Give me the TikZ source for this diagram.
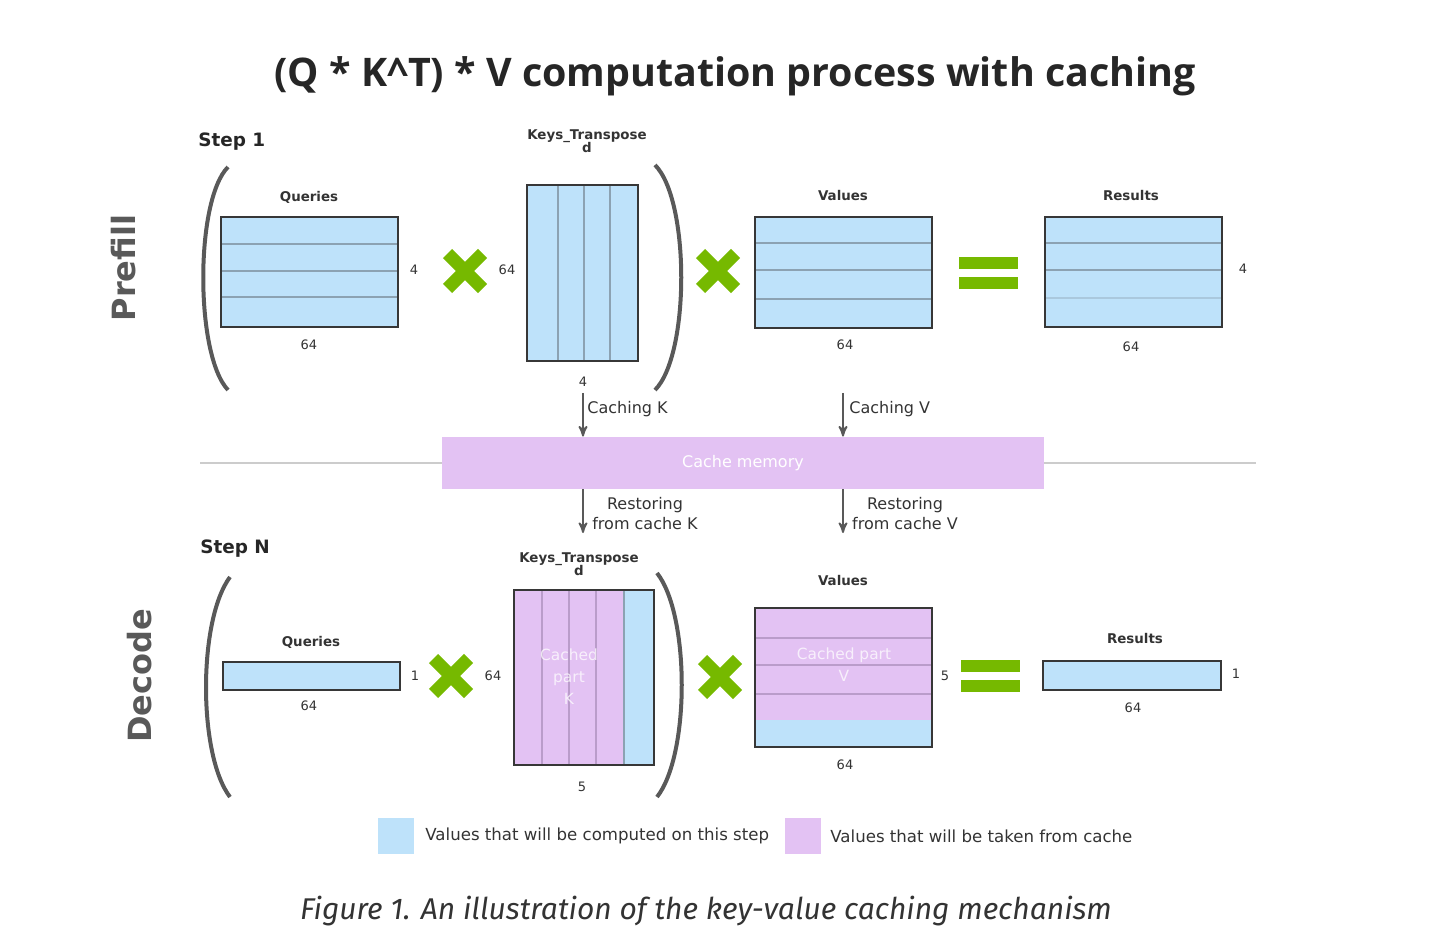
\documentclass[tikz,border=0pt]{standalone}
\usepackage{fontspec}
\setmainfont{DejaVu Sans}
\newfontfamily\titlefont{Open Sans}
\newfontfamily\capfont{Fira Sans}
\usetikzlibrary{arrows}

\definecolor{cellblue}{RGB}{190,226,250}
\definecolor{cachepink}{RGB}{227,194,243}
\definecolor{nvgreen}{RGB}{118,185,0}
\definecolor{framegray}{RGB}{55,55,55}
\definecolor{rowline}{RGB}{140,162,178}
\definecolor{pinkline}{RGB}{186,156,202}
\definecolor{darktext}{RGB}{51,51,51}

\begin{document}
\begin{tikzpicture}[x=0.5pt,y=-0.5pt,>=stealth',
    title/.style={font=\titlefont\bfseries\fontsize{19.7}{22}\selectfont,text=black!85},
    steplabel/.style={font=\bfseries\fontsize{9.2}{11}\selectfont,text=black!85,anchor=west,inner sep=0pt},
    phase/.style={font=\bfseries\fontsize{16}{18}\selectfont,text=black!65,rotate=90,inner sep=0pt},
    matname/.style={font=\bfseries\fontsize{6.7}{8}\selectfont,text=black!80,inner sep=0pt},
    dimlab/.style={font=\fontsize{6.5}{7}\selectfont,text=black!80,inner sep=0pt},
    mat/.style={fill=cellblue,inner sep=0pt},
    cachedmat/.style={fill=cachepink,inner sep=0pt},
    frame/.style={draw=framegray,line width=1pt},
    rowsep/.style={draw=rowline,line width=0.7pt},
    pinksep/.style={draw=pinkline,line width=0.7pt},
    paren/.style={draw=black!65,line width=2pt},
    cross/.style={draw=nvgreen,line width=6.5pt},
    flow/.style={->,draw=black!65,line width=0.9pt},
    flowlab/.style={font=\fontsize{8}{10}\selectfont,text=black!80,inner sep=0pt,align=center},
    cachedtxt/.style={font=\fontsize{7.7}{11}\selectfont,text=white,text opacity=0.75,align=center,inner sep=0pt},
    legendbox/.style={minimum size=18pt,inner sep=0pt},
    legendtxt/.style={font=\fontsize{8.3}{10}\selectfont,text=black!80,anchor=west,inner sep=0pt}]
  \useasboundingbox (0,0) rectangle (1442,952);

  % title
  \node[title] (title) at (735,76) {(Q * K\^{}T) * V computation process with caching};

  % prefill
  \node[steplabel] (step1) at (198,142) {Step 1};
  \node[phase] (prefill) at (124,268) {Prefill};
  \draw[paren] (228,167) .. controls (195,200) and (195,355) .. (228,390);
  \draw[paren] (655,165) .. controls (690,200) and (690,355) .. (655,390);

  \node[mat,minimum width=88.5pt,minimum height=55pt] (q1) at (309.5,272) {};
  \foreach \y in {244,271,297} \draw[rowsep] (221,\y) -- (398,\y);
  \draw[frame] (q1.north west) rectangle (q1.south east);
  \node[matname] (q1name) at (309,197) {Queries};
  \node[dimlab] (q1w) at (309,345) {64};
  \node[dimlab] (q1h) at (414,270) {4};

  \node[mat,minimum width=55.5pt,minimum height=88pt] (k1) at (582.5,273) {};
  \foreach \x in {558,584,610} \draw[rowsep] (\x,185) -- (\x,361);
  \draw[frame] (k1.north west) rectangle (k1.south east);
  \node[matname,align=center] (k1name) at (587,141) {Keys\_Transpose\\[-1.5pt]d};
  \node[dimlab] (k1h) at (507,270) {64};
  \node[dimlab] (k1w) at (583,382) {4};

  \node[mat,minimum width=88.5pt,minimum height=55.5pt] (v1) at (843.5,272.5) {};
  \foreach \y in {243,270,299} \draw[rowsep] (755,\y) -- (932,\y);
  \draw[frame] (v1.north west) rectangle (v1.south east);
  \node[matname] (v1name) at (843,196) {Values};
  \node[dimlab] (v1w) at (845,345) {64};

  \node[mat,minimum width=88.5pt,minimum height=55pt] (r1) at (1133.5,272) {};
  \foreach \y in {243,270} \draw[rowsep] (1045,\y) -- (1222,\y);
  \draw[rowsep,draw opacity=0.4] (1045,298) -- (1222,298);
  \draw[frame] (r1.north west) rectangle (r1.south east);
  \node[matname] (r1name) at (1131,196) {Results};
  \node[dimlab] (r1w) at (1131,347) {64};
  \node[dimlab] (r1h) at (1243,269) {4};

  % cache
  \draw[line width=1pt,draw=black!20] (200,463) -- (1256,463);
  \node[fill=cachepink,minimum width=301pt,minimum height=26pt,inner sep=0pt,
        font=\fontsize{8}{10}\selectfont,text=white] (cache) at (743,463) {Cache memory};
  \coordinate (ck) at (583,393);
  \coordinate (cv) at (843,393);
  \coordinate (rk) at (583,533);
  \coordinate (rv) at (843,533);
  \draw[flow] (ck) -- (ck |- cache.north);
  \draw[flow] (cv) -- (cv |- cache.north);
  \draw[flow] (cache.south -| rk) -- (rk);
  \draw[flow] (cache.south -| rv) -- (rv);
  \node[flowlab,anchor=west] (ckl) at (587,409) {Caching K};
  \node[flowlab,anchor=west] (cvl) at (849,409) {Caching V};
  \node[flowlab] (rkl) at (645,514) {Restoring\\from cache K};
  \node[flowlab] (rvl) at (905,514) {Restoring\\from cache V};

  % decode
  \node[steplabel] (stepN) at (200,549) {Step N};
  \node[phase] (decode) at (140,676) {Decode};
  \draw[paren] (230,577) .. controls (198,620) and (198,755) .. (230,797);
  \draw[paren] (657,573) .. controls (690,615) and (690,755) .. (657,797);

  \node[mat,minimum width=88.5pt,minimum height=14pt] (q2) at (311.5,676) {};
  \draw[frame] (q2.north west) rectangle (q2.south east);
  \node[matname] (q2name) at (311,642) {Queries};
  \node[dimlab] (q2w) at (309,706) {64};
  \node[dimlab] (q2h) at (415,676) {1};

  \node[cachedmat,minimum width=70pt,minimum height=87.5pt] (k2) at (584,677.5) {};
  \fill[cellblue] (624,590) rectangle (654,765);
  \foreach \x in {542,569,596} \draw[pinksep] (\x,590) -- (\x,765);
  \draw[rowsep] (624,590) -- (624,765);
  \draw[frame] (k2.north west) rectangle (k2.south east);
  \node[cachedtxt] (k2txt) at (569,677) {Cached\\part\\K};
  \node[matname,align=center] (k2name) at (579,564) {Keys\_Transpose\\[-1.5pt]d};
  \node[dimlab] (k2h) at (493,676) {64};
  \node[dimlab] (k2w) at (582,787) {5};

  \node[cachedmat,minimum width=88.5pt,minimum height=69.5pt] (v2) at (843.5,677.5) {};
  \fill[cellblue] (755,720) rectangle (932,747);
  \foreach \y in {638,665,694} \draw[pinksep] (755,\y) -- (932,\y);
  \draw[frame] (v2.north west) rectangle (v2.south east);
  \node[cachedtxt] (v2txt) at (844,665) {Cached part\\V};
  \node[matname] (v2name) at (843,581) {Values};
  \node[dimlab] (v2h) at (945,676) {5};
  \node[dimlab] (v2w) at (845,765) {64};

  \node[mat,minimum width=89pt,minimum height=14.5pt] (r2) at (1132,675.5) {};
  \draw[frame] (r2.north west) rectangle (r2.south east);
  \node[matname] (r2name) at (1135,639) {Results};
  \node[dimlab] (r2w) at (1133,708) {64};
  \node[dimlab] (r2h) at (1236,674) {1};

  % operators
  \foreach \cx/\cy in {465/271,718/271,451/676,720/677}
    \draw[cross] (\cx-17.5,\cy-17.5) -- (\cx+17.5,\cy+17.5) (\cx-17.5,\cy+17.5) -- (\cx+17.5,\cy-17.5);
  \foreach \ex/\ey in {959/257,959/277,961/660,961/680}
    \fill[nvgreen] (\ex,\ey) rectangle (\ex+59,\ey+12);

  % legend
  \node[legendbox,fill=cellblue] (lgblue) at (396,836) {};
  \node[legendtxt] (lgbluetxt) at (425,836) {Values that will be computed on this step};
  \node[legendbox,fill=cachepink] (lgpink) at (803,836) {};
  \node[legendtxt] (lgpinktxt) at (830,836) {Values that will be taken from cache};

  % caption
  \node[font=\capfont\itshape\fontsize{15}{17}\selectfont,text=darktext] (caption) at (706,911)
    {Figure 1. An illustration of the key-value caching mechanism};
\end{tikzpicture}
\end{document}
